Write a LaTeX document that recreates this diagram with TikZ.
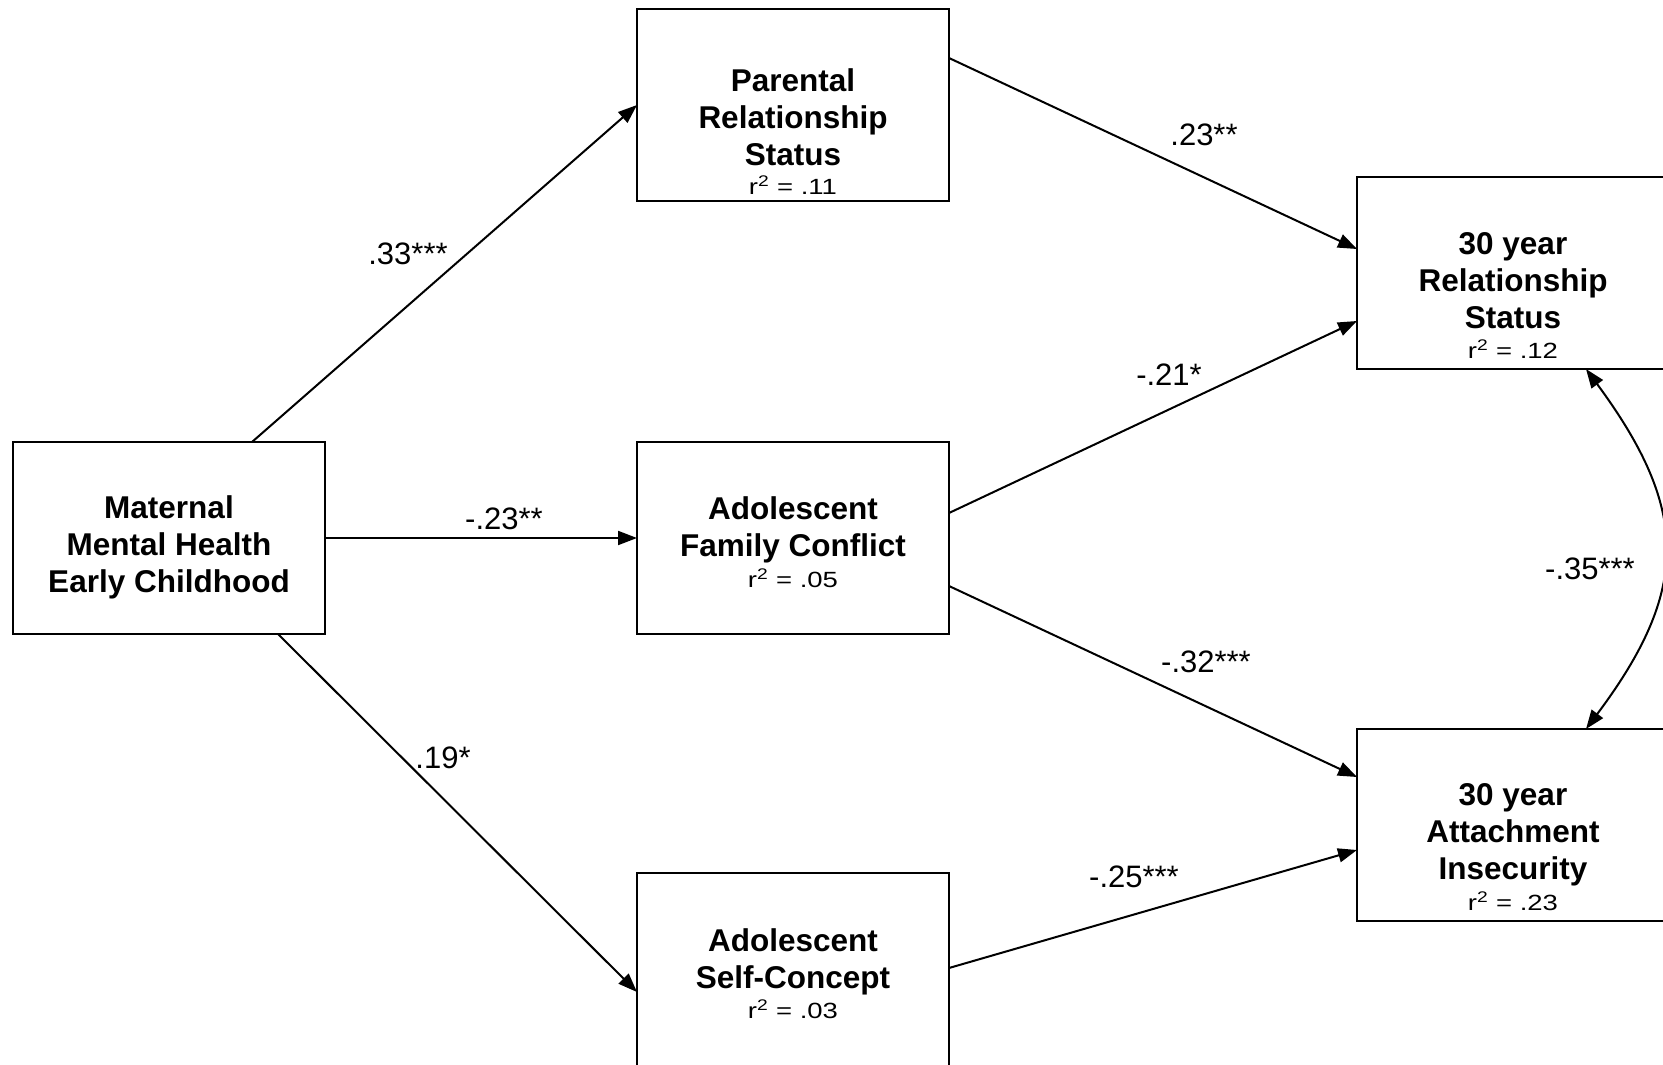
\documentclass[tikz,border=0pt]{standalone}
\usepackage{graphicx}
\usepackage{fontspec}
\setmainfont{Liberation Sans}
\usetikzlibrary{arrows.meta,calc}
\newcommand\bxf{\fontsize{31.5}{37}\selectfont\bfseries}
\newcommand\lbf{\fontsize{31}{37}\selectfont}
\newcommand\rsq[1]{\scalebox{1.25}[1]{\fontsize{22}{24}\selectfont r\textsuperscript{2} = #1}}
\begin{document}
\begin{tikzpicture}[x=1pt,y=-1pt,
  box/.style={draw, line width=2.2pt, minimum width=312pt, minimum height=192pt,
    inner sep=0pt, outer sep=0pt, anchor=north west},
  txt/.style={font=\bxf, align=center, inner sep=0pt, anchor=base},
  rs/.style={inner sep=0pt, anchor=base},
  lab/.style={font=\lbf, inner sep=0pt},
  conn/.style={line width=2pt, -{Triangle[length=19pt,width=14pt]}},
  dconn/.style={line width=2pt, {Triangle[length=19pt,width=14pt]}-{Triangle[length=19pt,width=14pt]}}]
\useasboundingbox (0,0) rectangle (1663,1065);
\clip (0,0) rectangle (1663,1065);
% boxes
\node[box] (mat) at (13,442) {};
\node[box] (par) at (637,9) {};
\node[box] (fam) at (637,442) {};
\node[box, minimum height=205pt] (self) at (637,873) {};
\node[box] (rel) at (1357,177) {};
\node[box] (att) at (1357,729) {};
% box texts (anchor = baseline of last line)
\node[txt] (matT) at (169,592) {Maternal\\Mental Health\\Early Childhood};
\node[txt] (parT) at (793,165) {Parental\\Relationship\\Status};
\node[rs] (parR) at (793,194) {\rsq{.11}};
\node[txt] (famT) at (793,556) {Adolescent\\Family Conflict};
\node[rs] (famR) at (793,587) {\rsq{.05}};
\node[txt] (selfT) at (793,988) {Adolescent\\Self-Concept};
\node[rs] (selfR) at (793,1018) {\rsq{.03}};
\node[txt] (relT) at (1513,328) {30 year\\Relationship\\Status};
\node[rs] (relR) at (1513,358) {\rsq{.12}};
\node[txt] (attT) at (1513,879) {30 year\\Attachment\\Insecurity};
\node[rs] (attR) at (1513,910) {\rsq{.23}};
% connectors
\draw[conn] ($(mat.north west)+(239,0)$) -- (par.west);
\draw[conn] (mat.east) -- (fam.west);
\draw[conn] ($(mat.south west)+(265,0)$) -- ($(self.north west)+(0,119)$);
\draw[conn] ($(par.north east)+(0,49)$) -- ($(rel.north west)+(0,72)$);
\draw[conn] ($(fam.north east)+(0,71)$) -- ($(rel.north west)+(0,144)$);
\draw[conn] ($(fam.north east)+(0,144)$) -- ($(att.north west)+(0,48)$);
\draw[conn] ($(self.north east)+(0,95)$) -- ($(att.north west)+(0,121)$);
\draw[dconn] ($(rel.south west)+(229,0)$) .. controls (1690,510) and (1690,590) .. ($(att.north west)+(229,0)$);
% labels
\node[lab] (l1) at (1204,135) {.23**};
\node[lab] (l2) at (408,254) {.33***};
\node[lab] (l3) at (504,519) {-.23**};
\node[lab] (l4) at (1169,375) {-.21*};
\node[lab] (l5) at (1590,569) {-.35***};
\node[lab] (l6) at (1206,662) {-.32***};
\node[lab] (l7) at (443,758) {.19*};
\node[lab] (l8) at (1134,877) {-.25***};
\end{tikzpicture}
\end{document}
